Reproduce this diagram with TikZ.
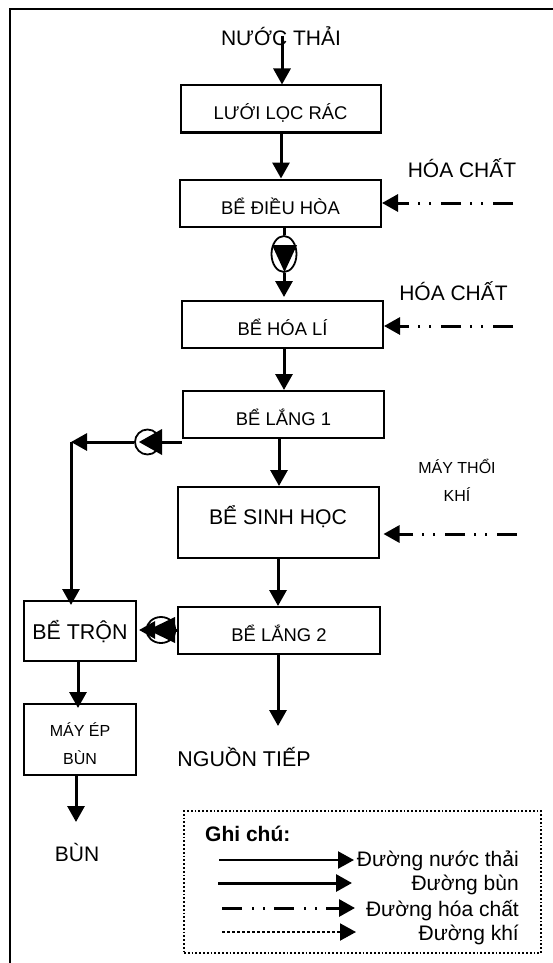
\documentclass[tikz,border=0pt]{standalone}
\usepackage{fontspec}
\setmainfont{Liberation Sans}
\usetikzlibrary{arrows.meta,shapes.geometric}
\tikzset{
  tank/.style={draw,line width=2pt,inner sep=0pt,text depth=0pt,font=\fontsize{18.4}{20}\selectfont},
  label/.style={inner sep=0pt,font=\fontsize{21}{24}\selectfont},
  flow/.style={line width=3pt,-{Triangle[length=16pt,width=17pt]}},
  chem/.style={line width=3pt,dash pattern=on 20pt off 10pt on 2pt off 9pt on 2pt off 9pt,-{Triangle[length=16pt,width=17pt]}},
  pump/.style={draw,ellipse,line width=1.8pt,inner sep=0pt},
  note/.style={anchor=base east,inner sep=0pt,font=\fontsize{21}{24}\selectfont},
}
\begin{document}
\begin{tikzpicture}[x=1pt,y=-1pt]
  \useasboundingbox (0,0) rectangle (553,963);
  % outer frame
  \draw[line width=2pt] (9.5,963) -- (9.5,9) -- (553,9);
  % tanks
  \node[tank,minimum width=200pt,minimum height=47pt,text height=22pt] (luoi) at (280.5,109) {LƯỚI LỌC RÁC};
  \node[tank,minimum width=201pt,minimum height=47pt,text height=22pt] (dieuhoa) at (280.5,203) {BỂ ĐIỀU HÒA};
  \node[tank,minimum width=201pt,minimum height=47pt,text height=21pt] (hoali) at (282.5,324.5) {BỂ HÓA LÍ};
  \node[tank,minimum width=201pt,minimum height=47pt,text height=21pt] (lang1) at (283.5,414.5) {BỂ LẮNG 1};
  \node[tank,minimum width=201pt,minimum height=71pt,text height=3pt,font=\fontsize{21.2}{24}\selectfont] (sinh) at (278,522.5) {BỂ SINH HỌC};
  \node[tank,minimum width=202pt,minimum height=47pt,text height=21pt] (lang2) at (279,630.5) {BỂ LẮNG 2};
  \node[tank,minimum width=112pt,minimum height=60pt,text height=17pt,font=\fontsize{21.4}{24}\selectfont] (tron) at (80,631) {BỂ TRỘN};
  \node[tank,minimum width=112pt,minimum height=71pt,align=center,font=\fontsize{16}{27.5}\selectfont] (mayep) at (80,739.5) {\rule{0pt}{22pt}MÁY ÉP\\BÙN};
  % texts
  \node[label] (nuocthai) at (281,36) {NƯỚC THẢI};
  \node[label] (hoachat1) at (462,168) {HÓA CHẤT};
  \node[label] (hoachat2) at (453.5,291) {HÓA CHẤT};
  \node[label,align=center,font=\fontsize{16}{28}\selectfont] (maythoi) at (457,480) {MÁY THỔI\\KHÍ};
  \node[label,font=\fontsize{21.4}{24}\selectfont] (nguon) at (244,757) {NGUỒN TIẾP};
  \node[label] (bun) at (77,852) {BÙN};
  \coordinate (src1) at (513,203);
  \coordinate (src2) at (513,326);
  \coordinate (src3) at (517,534);
  \coordinate (outlet) at (278,726);
  \coordinate (sludge) at (76,822);
  \coordinate (corner) at (71,442);
  % pumps
  \node[pump,minimum width=25pt,minimum height=36pt] (pumpa) at (284,254) {};
  \fill (272,245) -- (297,245) -- (284.5,272) -- cycle;
  \node[pump,minimum width=25pt,minimum height=25pt] (pumpb) at (147.5,442) {};
  \fill (139,442) -- (162,429) -- (162,455) -- cycle;
  \node[pump,minimum width=29pt,minimum height=26pt] (pumpc) at (161,630) {};
  \fill (148,630) -- (175,617) -- (175,643) -- cycle;
  % water line
  \draw[flow] (nuocthai.center -| 282,0) -- (luoi.north -| 282,0);
  \draw[flow] (luoi.south -| 281,0) -- (dieuhoa.north -| 281,0);
  \draw[line width=3pt] (dieuhoa.south -| pumpa.center) -- (pumpa.north);
  \draw[flow,shorten >=3pt] (pumpa.south) -- (hoali.north -| pumpa.center);
  \draw[flow] (hoali.south -| pumpa.center) -- (lang1.north -| pumpa.center);
  \draw[flow] (lang1.south -| 279,0) -- (sinh.north -| 279,0);
  \draw[flow] (sinh.south -| 278,0) -- (lang2.north -| 278,0);
  \draw[flow] (lang2.south -| outlet) -- (outlet);
  % sludge line
  \draw[line width=3pt] (181.5,442) -- (pumpb.east);
  \draw[flow] (pumpb.west) -- (corner);
  \draw[flow,shorten >=-5pt] (corner) -- (tron.north -| corner);
  \draw[flow,shorten >=2pt] (lang2.west |- pumpc.center) -- (tron.east |- pumpc.center);
  \draw[flow,shorten >=-5pt] (tron.south -| 78,0) -- (mayep.north -| 78,0);
  \draw[flow] (mayep.south -| sludge) -- (sludge);
  % chemical and air lines
  \draw[chem] (src1) -- (dieuhoa.east |- src1);
  \draw[chem] (src2) -- (hoali.east |- src2);
  \draw[chem,shorten >=4pt] (src3) -- (sinh.east |- src3);
  % legend
  \node[draw,dotted,line width=1.8pt,minimum width=357pt,minimum height=142pt] (legend) at (362.5,882) {};
  \node[anchor=base west,inner sep=0pt,font=\bfseries\fontsize{21}{24}\selectfont] (ghichu) at (205,841) {Ghi chú:};
  \node[note] (nuoc) at (519,866) {Đường nước thải};
  \node[note] (bunl) at (519,890) {Đường bùn};
  \node[note] (chat) at (519,916) {Đường hóa chất};
  \node[note] (khi) at (519,940) {Đường khí};
  \coordinate (a1) at (219,860);
  \coordinate (b1) at (354,860);
  \coordinate (a2) at (218,883);
  \coordinate (b2) at (352,883);
  \coordinate (a3) at (222,908);
  \coordinate (b3) at (355,908);
  \coordinate (a4) at (222,932);
  \coordinate (b4) at (356,932);
  \draw[flow,line width=2.3pt] (a1) -- (b1);
  \draw[flow] (a2) -- (b2);
  \draw[chem] (a3) -- (b3);
  \draw[flow,dotted,line width=2pt] (a4) -- (b4);
\end{tikzpicture}
\end{document}
